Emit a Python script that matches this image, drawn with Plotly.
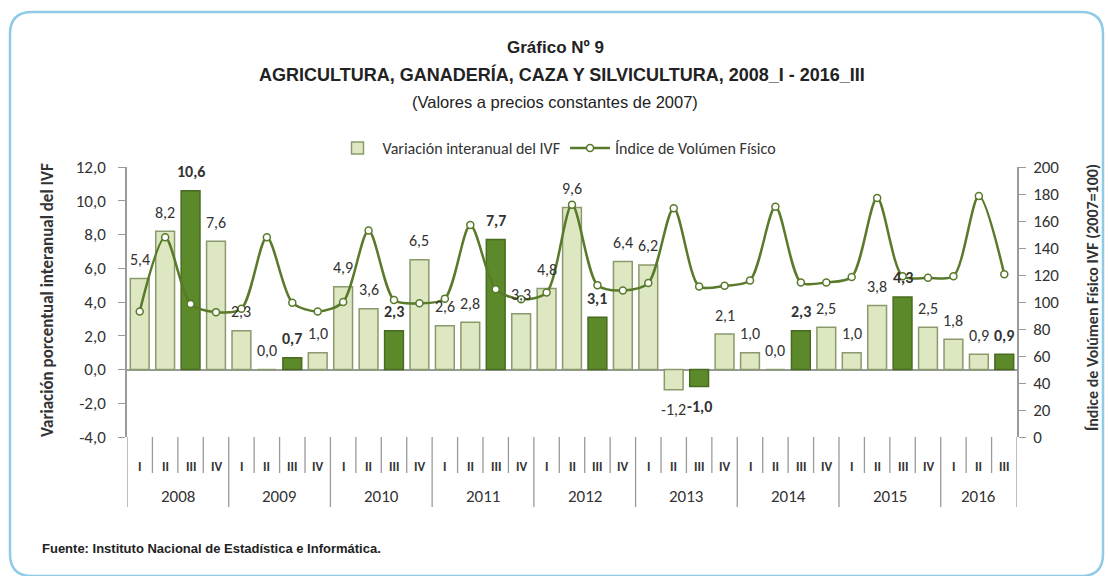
import plotly.graph_objects as go

# ---------------- data ----------------
years = ["2008", "2009", "2010", "2011", "2012", "2013", "2014", "2015", "2016"]
quarter_labels = ["I", "II", "III", "IV"] * 8 + ["I", "II", "III"]
variacion = [5.4, 8.2, 10.6, 7.6,
             2.3, 0.0, 0.7, 1.0,
             4.9, 3.6, 2.3, 6.5,
             2.6, 2.8, 7.7, 3.3,
             4.8, 9.6, 3.1, 6.4,
             6.2, -1.2, -1.0, 2.1,
             1.0, 0.0, 2.3, 2.5,
             1.0, 3.8, 4.3, 2.5,
             1.8, 0.9, 0.9]
indice = [93, 148, 98.5, 92.5,
          95, 148, 99.5, 93,
          100, 153, 101.5, 99,
          102.5, 157, 109.5, 102,
          107, 172, 112.5, 108.5,
          114, 169.5, 111.5, 112,
          116, 170.5, 114.5, 114.5,
          118.5, 177, 119, 118,
          119, 178.5, 120.5]
left_ticks = [12, 10, 8, 6, 4, 2, 0, -2, -4]
left_tick_text = ["12,0", "10,0", "8,0", "6,0", "4,0", "2,0", "0,0", "-2,0", "-4,0"]
right_ticks = [0, 20, 40, 60, 80, 100, 120, 140, 160, 180, 200]

n = len(variacion)
xs = list(range(n))

LIGHT_FILL = "#dde7c2"
LIGHT_LINE = "#8a9a6c"
DARK_FILL = "#5c8a2a"
DARK_LINE = "#486b20"
LINE_COL = "#587a2a"
CAL = "Calibri, Carlito, Lato, 'Open Sans', sans-serif"
NARROW = "'Liberation Sans Narrow', 'Arial Narrow', 'Liberation Sans', Arial, sans-serif"
TXT = "#333333"

is_dark = [q == "III" for q in quarter_labels]
colors = [DARK_FILL if d else LIGHT_FILL for d in is_dark]
lcolors = [DARK_LINE if d else LIGHT_LINE for d in is_dark]


def fmt(v):
    return f"{v:.1f}".replace(".", ",")


texts = [f"<b>{fmt(v)}</b>" if d else fmt(v) for v, d in zip(variacion, is_dark)]

fig = go.Figure()
fig.add_trace(go.Bar(
    x=xs, y=variacion, name="Variación interanual del IVF",
    marker=dict(color=colors, line=dict(color=lcolors, width=1.5)),
    width=0.74,
))
fig.add_trace(go.Scatter(
    x=xs, y=indice, name="Índice de Volúmen Físico", yaxis="y2",
    mode="lines+markers", line=dict(color=LINE_COL, width=2.5, shape="spline", smoothing=0.8),
    marker=dict(symbol="circle", size=7, color="white", line=dict(color=LINE_COL, width=1.5)),
))

# ---------------- geometry helpers ----------------
L, R, T, B = 127, 91, 167, 139
W, H = 1108, 576
PW, PH = W - L - R, H - T - B


def px(xp):
    return (xp - L) / PW


def py(yp):
    return (T + PH - yp) / PH


shapes = []
for i in range(n + 1):
    xv = i - 0.5
    year_edge = (i % 4 == 0) or i == n
    y1 = py(507) if year_edge else py(473)
    shapes.append(dict(type="line", xref="x", yref="paper", x0=xv, x1=xv,
                       y0=py(437), y1=y1,
                       line=dict(color="#9a9a9a", width=1.3)))

# rounded border
x0p, x1p, y0p, y1p, r = 10, 1103, 12, 576, 22
path = (f"M {px(x0p + r)},{py(y0p)} L {px(x1p - r)},{py(y0p)} "
        f"Q {px(x1p)},{py(y0p)} {px(x1p)},{py(y0p + r)} "
        f"L {px(x1p)},{py(y1p - r)} Q {px(x1p)},{py(y1p)} {px(x1p - r)},{py(y1p)} "
        f"L {px(x0p + r)},{py(y1p)} Q {px(x0p)},{py(y1p)} {px(x0p)},{py(y1p - r)} "
        f"L {px(x0p)},{py(y0p + r)} Q {px(x0p)},{py(y0p)} {px(x0p + r)},{py(y0p)} Z")
shapes.append(dict(type="path", xref="paper", yref="paper", path=path,
                   line=dict(color="#8fcbe6", width=2.5), layer="below"))

C = dict(xanchor="center", yanchor="middle", showarrow=False)
annotations = []
# data labels
for i, (v, t) in enumerate(zip(variacion, texts)):
    annotations.append(dict(x=i, y=v, xref="x", yref="y", text=t,
                            yshift=19 if v >= 0 else -20,
                            font=dict(family=CAL, size=16, color=TXT), **C))
for i, q in enumerate(quarter_labels):
    annotations.append(dict(x=i, y=py(466), xref="x", yref="paper", text=f"<b>{q}</b>",
                            font=dict(family=CAL, size=13, color=TXT), **C))
for k, yr in enumerate(years):
    start = 4 * k
    end = min(4 * k + 3, n - 1)
    annotations.append(dict(x=(start + end) / 2, y=py(496), xref="x", yref="paper", text=yr,
                            font=dict(family=CAL, size=17, color=TXT), **C))

annotations += [
    dict(x=px(555), y=py(47), xref="paper", yref="paper", text="<b>Gráfico Nº 9</b>",
         font=dict(family=NARROW, size=17, color="#222222"), **C),
    dict(x=px(562), y=py(75), xref="paper", yref="paper",
         text="<b>AGRICULTURA, GANADERÍA, CAZA Y SILVICULTURA, 2008_I - 2016_III</b>",
         font=dict(family=NARROW, size=18, color="#222222"), **C),
    dict(x=px(555), y=py(102), xref="paper", yref="paper",
         text="(Valores a precios constantes de 2007)",
         font=dict(family=NARROW, size=16.5, color="#222222"), **C),
    dict(x=px(47), y=py(300), xref="paper", yref="paper", textangle=-90,
         text="<b>Variación porcentual interanual del IVF</b>",
         font=dict(family=CAL, size=17, color=TXT), **C),
    dict(x=px(1092), y=py(298), xref="paper", yref="paper", textangle=-90,
         text="<b>Índice de Volúmen Físico IVF (2007=100)</b>",
         font=dict(family=CAL, size=16, color=TXT), **C),
    dict(x=px(40), y=py(548), xref="paper", yref="paper", xanchor="left", yanchor="middle",
         showarrow=False,
         text="<b>Fuente: Instituto Nacional de Estadística e Informática.</b>",
         font=dict(family=NARROW, size=13, color="#222222")),
]

fig.update_layout(
    width=W, height=H,
    margin=dict(l=L, r=R, t=T, b=B),
    paper_bgcolor="white", plot_bgcolor="white",
    showlegend=True,
    legend=dict(orientation="h", x=px(557), xanchor="center", y=py(148), yanchor="middle",
                font=dict(family=CAL, size=16, color=TXT), bgcolor="rgba(0,0,0,0)",
                itemwidth=40, tracegroupgap=0),
    xaxis=dict(range=[-0.5, n - 0.5], showticklabels=False, showgrid=False, zeroline=False,
               showline=False, ticks=""),
    yaxis=dict(range=[-4, 12], tickvals=left_ticks, ticktext=left_tick_text, showgrid=False,
               zeroline=True, zerolinecolor="#9a9a9a", zerolinewidth=1.5,
               showline=True, linecolor="#9a9a9a", linewidth=1.5,
               ticks="outside", ticklen=7, tickcolor="#9a9a9a", ticklabelstandoff=9,
               tickfont=dict(family=CAL, size=17, color=TXT)),
    yaxis2=dict(range=[0, 200], overlaying="y", side="right", tickvals=right_ticks,
                showgrid=False, zeroline=False, showline=True, linecolor="#9a9a9a", linewidth=1.5,
                ticks="outside", ticklen=7, tickcolor="#9a9a9a", ticklabelstandoff=4,
                tickfont=dict(family=CAL, size=17, color=TXT)),
    bargap=0.26,
    shapes=shapes, annotations=annotations,
)

fig.write_html("out.html", config={"displayModeBar": False},
               post_script="document.body.style.margin='0px';document.body.style.overflow='hidden';")
